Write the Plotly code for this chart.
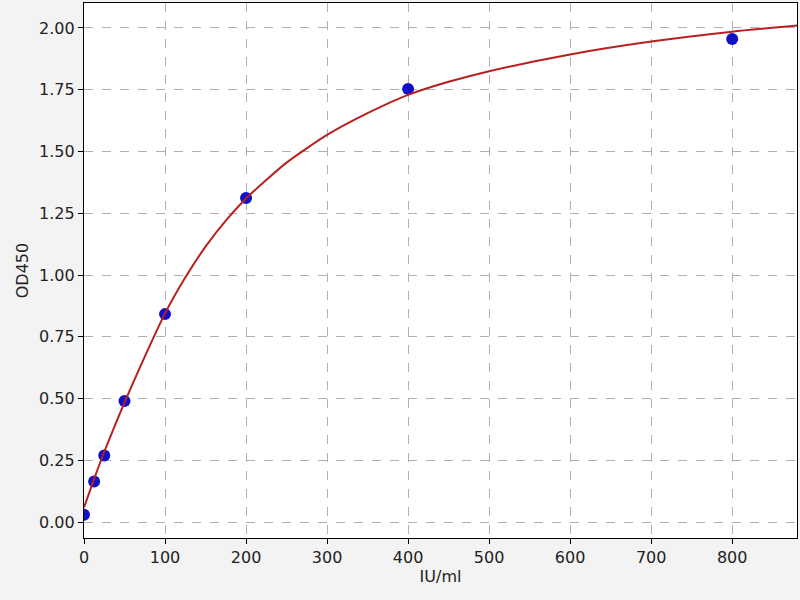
import plotly.graph_objects as go

# standard points
conc = [0, 12.5, 25, 50, 100, 200, 400, 800]
od = [0.03, 0.165, 0.27, 0.49, 0.842, 1.312, 1.753, 1.955]

# fitted curve
curve_x = [0, 12.5, 25, 50, 75, 100, 125, 150, 175, 200, 250, 300, 350, 400, 450, 500, 600, 700, 800, 880]
curve_y = [0.06, 0.175, 0.285, 0.485, 0.67, 0.845, 0.99, 1.115, 1.22, 1.31, 1.455, 1.567, 1.655, 1.729, 1.782, 1.825, 1.893, 1.945, 1.985, 2.01]

x_ticks = [0, 100, 200, 300, 400, 500, 600, 700, 800]
y_ticks = [0.0, 0.25, 0.5, 0.75, 1.0, 1.25, 1.5, 1.75, 2.0]

fig = go.Figure()
fig.add_trace(go.Scatter(
    x=conc, y=od, mode="markers",
    marker=dict(color="#1010c8", size=12, line=dict(width=0)),
    showlegend=False,
))
fig.add_trace(go.Scatter(
    x=curve_x, y=curve_y, mode="lines",
    line=dict(color="#b82020", width=2, shape="spline", smoothing=0.6),
    showlegend=False,
))

font = dict(family="DejaVu Sans", size=16, color="#222")
axis_common = dict(
    showline=True, linecolor="black", linewidth=1.2, mirror=True,
    ticks="outside", ticklen=5, tickcolor="black",
    showgrid=True, gridcolor="#b0b0b0", griddash="dash", gridwidth=1,
    zeroline=False, tickfont=font,
)

fig.update_xaxes(range=[0, 880], tickvals=x_ticks,
                 title=dict(text="IU/ml", font=font, standoff=4),
                 **axis_common)
fig.update_yaxes(range=[-0.064, 2.101], tickvals=y_ticks, tickformat=".2f",
                 title=dict(text="OD450", font=font, standoff=6),
                 **axis_common)

fig.update_layout(
    width=800, height=600,
    paper_bgcolor="#f3f3f3", plot_bgcolor="white",
    margin=dict(l=84, r=3, t=3, b=62),
)

# drop the browser's default page margin so the plot sits at 0,0
fig.write_html("out.html", config={"displayModeBar": False},
               post_script="document.body.style.margin='0';")
